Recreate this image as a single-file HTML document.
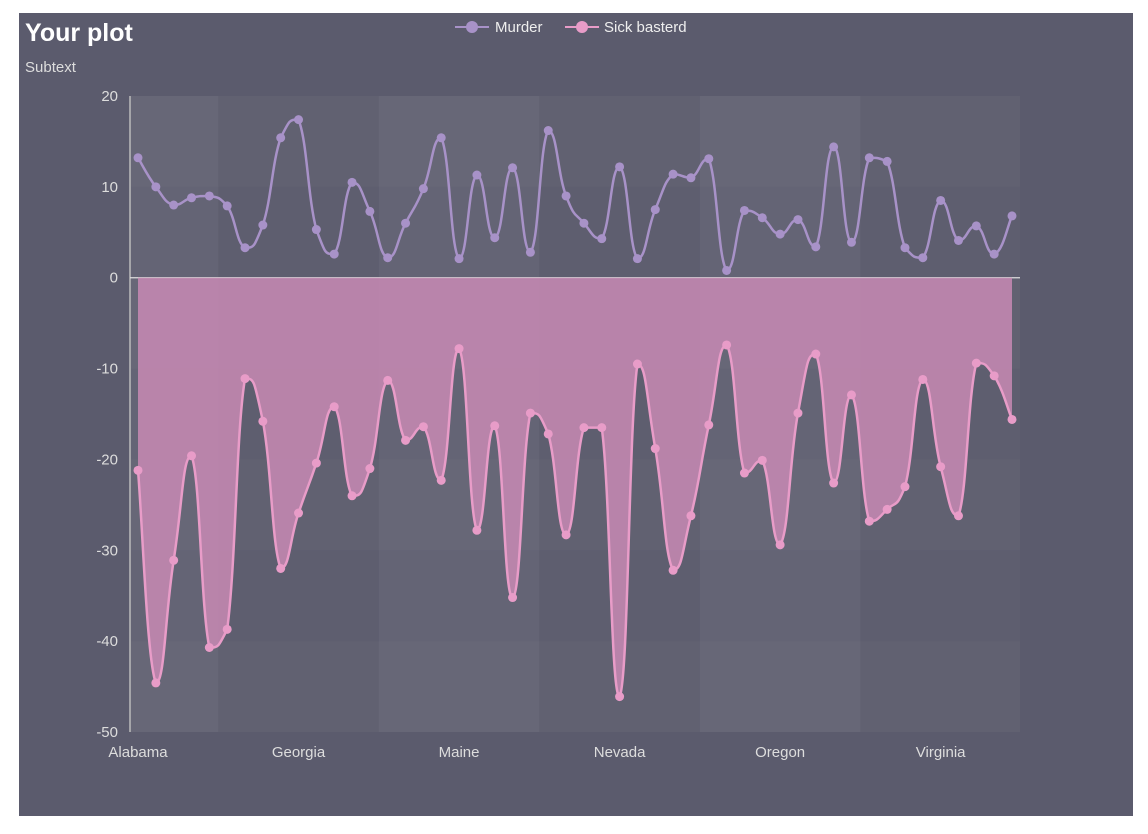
<!DOCTYPE html>
<html><head><meta charset="utf-8"><style>
html,body{margin:0;padding:0;background:#fff;width:1148px;height:834px;overflow:hidden;font-family:"Liberation Sans",sans-serif}
svg{position:absolute;left:0;top:0}
</style></head><body>
<svg id="chart" width="1148" height="834">
<rect x="19" y="13" width="1114" height="803" fill="#5b5b6d"/>
<text x="25" y="41" fill="#fff" font-size="25" font-weight="bold">Your plot</text>
<text x="25" y="72" fill="#ddd" font-size="15">Subtext</text>
<g>
<g><line x1="455" y1="27" x2="489" y2="27" stroke="#a892c8" stroke-width="2"/><circle cx="472" cy="27" r="6" fill="#a892c8"/><text x="495" y="32" fill="#eee" font-size="15">Murder</text></g>
<g><line x1="565" y1="27" x2="599" y2="27" stroke="#e89cc8" stroke-width="2"/><circle cx="582" cy="27" r="6" fill="#e89cc8"/><text x="604" y="32" fill="#eee" font-size="15">Sick basterd</text></g>
</g>
<g id="bg"></g><g id="axes"></g><g id="series"></g>
</svg>
<script>
const categories=["Alabama","Alaska","Arizona","Arkansas","California","Colorado","Connecticut","Delaware","Florida","Georgia","Hawaii","Idaho","Illinois","Indiana","Iowa","Kansas","Kentucky","Louisiana","Maine","Maryland","Massachusetts","Michigan","Minnesota","Mississippi","Missouri","Montana","Nebraska","Nevada","New Hampshire","New Jersey","New Mexico","New York","North Carolina","North Dakota","Ohio","Oklahoma","Oregon","Pennsylvania","Rhode Island","South Carolina","South Dakota","Tennessee","Texas","Utah","Vermont","Virginia","Washington","West Virginia","Wisconsin","Wyoming"];
const murder=[13.2,10.0,8.0,8.8,9.0,7.9,3.3,5.8,15.4,17.4,5.3,2.6,10.5,7.3,2.2,6.0,9.8,15.4,2.1,11.3,4.4,12.1,2.8,16.2,9.0,6.0,4.3,12.2,2.1,7.5,11.4,11.0,13.1,0.8,7.4,6.6,4.8,6.4,3.4,14.4,3.9,13.2,12.8,3.3,2.2,8.5,4.1,5.7,2.6,6.8];
const sick=[-21.2,-44.6,-31.1,-19.6,-40.7,-38.7,-11.1,-15.8,-32.0,-25.9,-20.4,-14.2,-24.0,-21.0,-11.3,-17.9,-16.4,-22.3,-7.8,-27.8,-16.3,-35.2,-14.9,-17.2,-28.3,-16.5,-16.5,-46.1,-9.5,-18.8,-32.2,-26.2,-16.2,-7.4,-21.5,-20.1,-29.4,-14.9,-8.4,-22.6,-12.9,-26.8,-25.5,-23.0,-11.2,-20.8,-26.2,-9.4,-10.8,-15.6];
const yTicks=[20,10,0,-10,-20,-30,-40,-50];
const NS="http://www.w3.org/2000/svg";
const L=130,R=1020,T=96,B=732,yMin=-50,yMax=20;
const step=(R-L-16)/(categories.length-1);
const xs=i=>138+i*step;
const ys=v=>B-(v-yMin)/(yMax-yMin)*(B-T);
function mk(tag,attrs,parent){const e=document.createElementNS(NS,tag);for(const k in attrs)e.setAttribute(k,attrs[k]);parent.appendChild(e);return e;}
const bg=document.getElementById('bg'),ax=document.getElementById('axes'),se=document.getElementById('series');
const labelEvery=9;
let edges=[L];for(let i=0;i<categories.length;i+=labelEvery){const e=xs(i)+labelEvery*step/2;edges.push(Math.min(e,R));}
for(let b=0;b<edges.length-1;b++){if(edges[b+1]<=edges[b])continue;
 const r=mk('rect',{x:edges[b],y:T,width:edges[b+1]-edges[b],height:B-T,fill:'#fff','fill-opacity':b%2==0?0.06:0.02},bg);
 
 }
for(let k=0;k<yTicks.length-1;k++){
 const r=mk('rect',{x:L,y:ys(yTicks[k]),width:R-L,height:ys(yTicks[k+1])-ys(yTicks[k]),fill:'#fff','fill-opacity':k%2==0?0.02:0.0},bg);
 
 }
const yl=mk('line',{x1:L,y1:T,x2:L,y2:B,stroke:'#bbb','stroke-width':1.5},ax);


const zl=mk('line',{x1:L,y1:ys(0),x2:R,y2:ys(0),stroke:'#ddd','stroke-width':1.2},ax);


yTicks.forEach(v=>{const t=mk('text',{x:118,y:ys(v)+5,fill:'#ddd','font-size':15,'text-anchor':'end'},ax);t.textContent=v;
 
 });
categories.forEach((c,i)=>{if(i%labelEvery)return;const t=mk('text',{x:xs(i),y:757,fill:'#ddd','font-size':15,'text-anchor':'middle'},ax);t.textContent=c;
 
 });
function clamp(v,a,b){const lo=Math.min(a,b),hi=Math.max(a,b);return Math.max(lo,Math.min(hi,v));}
function smooth(pts){let d=`M${pts[0][0]},${pts[0][1]}`;const s=0.5;
 for(let i=0;i<pts.length-1;i++){const p0=pts[i-1]||pts[i],p1=pts[i],p2=pts[i+1],p3=pts[i+2]||p2;
  const c1=[p1[0]+(p2[0]-p0[0])*s/2,clamp(p1[1]+(p2[1]-p0[1])*s/2,p1[1],p2[1])];
  const c2=[p2[0]-(p3[0]-p1[0])*s/2,clamp(p2[1]-(p3[1]-p1[1])*s/2,p1[1],p2[1])];
  d+=` C${c1[0]},${c1[1]} ${c2[0]},${c2[1]} ${p2[0]},${p2[1]}`;}return d;}
function drawSeries(vals,color,fill,name){
 const pts=vals.map((v,i)=>[xs(i),ys(v)]);const d=smooth(pts);
 if(fill){const a=mk('path',{d:d+` L${pts[pts.length-1][0]},${ys(0)} L${pts[0][0]},${ys(0)} Z`,fill:fill,'fill-opacity':0.85},se);
  
  }
 const p=mk('path',{d:d,fill:'none',stroke:color,'stroke-width':2.5},se);
 
 
 pts.forEach(pt=>{const c=mk('circle',{cx:pt[0],cy:pt[1],r:4.5,fill:color},se);
  
  });}
drawSeries(sick,'#e89cc8','#c88ab4','sick');
drawSeries(murder,'#a892c8',null,'murder');
</script>
</body></html>
